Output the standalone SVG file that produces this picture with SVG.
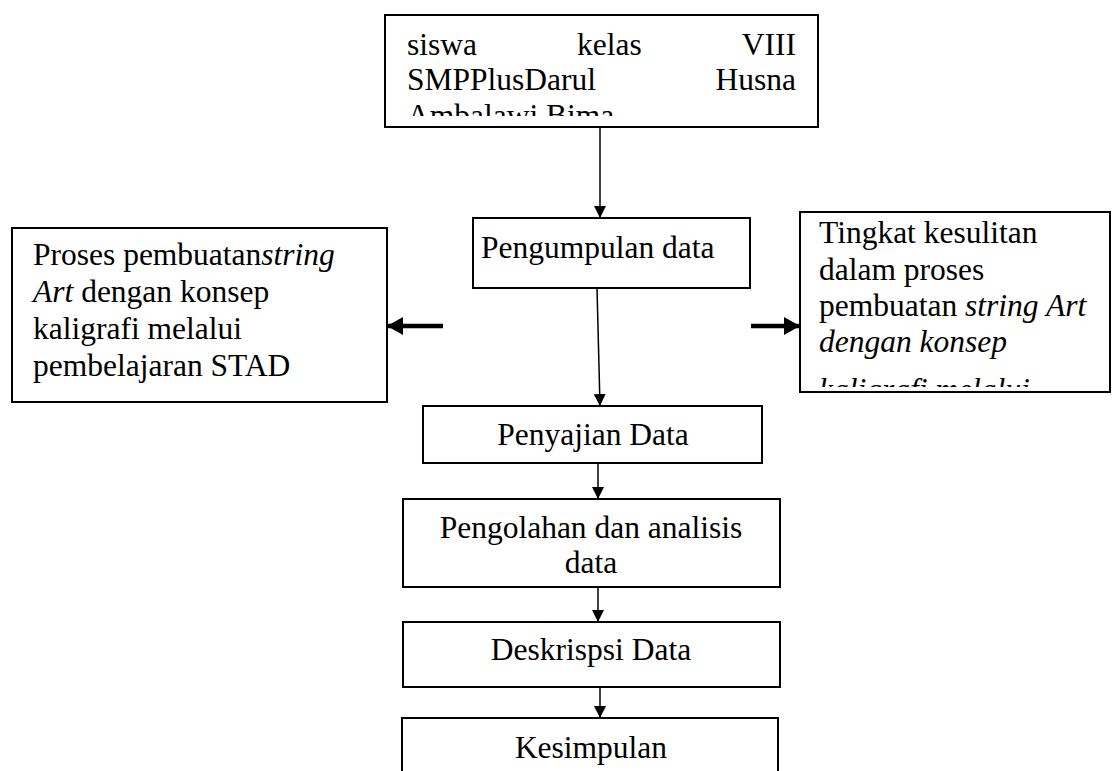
<svg xmlns="http://www.w3.org/2000/svg" width="1115" height="771" viewBox="0 0 1115 771">
<style>
.box{fill:#fff;stroke:#000;stroke-width:2}
.t{font-family:"Liberation Serif","Times New Roman",serif;font-size:31.5px;fill:#000}
.c{text-anchor:middle}
.i{font-style:italic}
.ln{stroke:#000;stroke-width:1.5;fill:none}
.thick{stroke:#000;stroke-width:4.5;fill:none}
</style>
<defs>
<marker id="ah" markerWidth="12" markerHeight="14" refX="14" refY="7" orient="auto" markerUnits="userSpaceOnUse" viewBox="0 0 14 14">
<path d="M0,0 L14,7 L0,14 Z" fill="#000"/>
</marker>
<marker id="ahb" markerWidth="16" markerHeight="18" refX="16" refY="9" orient="auto" markerUnits="userSpaceOnUse" viewBox="0 0 16 18">
<path d="M0,0 L16,9 L0,18 Z" fill="#000"/>
</marker>
<clipPath id="cTop"><rect x="386" y="16" width="431" height="100"/></clipPath>
<clipPath id="cLeft"><rect x="13" y="229" width="373" height="167"/></clipPath>
<clipPath id="cRight"><rect x="801" y="213" width="310" height="174"/></clipPath>
</defs>
<g id="connectors">
<line class="ln" x1="600" y1="127" x2="600" y2="218" marker-end="url(#ah)"/>
<line class="ln" x1="597" y1="288" x2="600" y2="406" marker-end="url(#ah)"/>
<line class="ln" x1="598" y1="463" x2="598" y2="499" marker-end="url(#ah)"/>
<line class="ln" x1="598" y1="587" x2="598" y2="622" marker-end="url(#ah)"/>
<line class="ln" x1="600" y1="687" x2="600" y2="718" marker-end="url(#ah)"/>
<line class="thick" x1="443" y1="326" x2="387" y2="326" marker-end="url(#ahb)"/>
<line class="thick" x1="751" y1="326" x2="800" y2="326" marker-end="url(#ahb)"/>
</g>
<g id="node-siswa">
<rect class="box" x="385" y="15" width="433" height="112"/>
<g clip-path="url(#cTop)">
<text class="t" x="407" y="55">siswa</text>
<text class="t" x="577" y="55">kelas</text>
<text class="t" x="796" y="55" text-anchor="end">VIII</text>
<text class="t" x="407" y="90">SMPPlusDarul</text>
<text class="t" x="796" y="90" text-anchor="end">Husna</text>
<text class="t" x="407" y="126">Ambalawi Bima</text>
</g>
</g>
<g id="node-pengumpulan">
<rect class="box" x="473" y="218" width="277" height="70"/>
<text class="t" x="481" y="258">Pengumpulan data</text>
</g>
<g id="node-proses">
<rect class="box" x="12" y="228" width="375" height="174"/>
<g clip-path="url(#cLeft)">
<text class="t" x="33" y="265">Proses pembuatan<tspan class="i">string</tspan></text>
<text class="t" x="33" y="302"><tspan class="i">Art</tspan> dengan konsep</text>
<text class="t" x="33" y="339">kaligrafi melalui</text>
<text class="t" x="33" y="376">pembelajaran STAD</text>
</g>
</g>
<g id="node-tingkat">
<rect class="box" x="800" y="212" width="310" height="180"/>
<g clip-path="url(#cRight)">
<text class="t" x="819" y="243">Tingkat kesulitan</text>
<text class="t" x="819" y="280">dalam proses</text>
<text class="t" x="819" y="316">pembuatan <tspan class="i">string Art</tspan></text>
<text class="t i" x="819" y="352">dengan konsep</text>
<text class="t i" x="819" y="400">kaligrafi melalui</text>
</g>
</g>
<g id="node-penyajian">
<rect class="box" x="423" y="406" width="339" height="57"/>
<text class="t c" x="593" y="445">Penyajian Data</text>
</g>
<g id="node-pengolahan">
<rect class="box" x="403" y="499" width="377" height="88"/>
<text class="t c" x="591" y="538">Pengolahan dan analisis</text>
<text class="t c" x="591" y="573">data</text>
</g>
<g id="node-deskripsi">
<rect class="box" x="403" y="622" width="377" height="65"/>
<text class="t c" x="591" y="660">Deskrispsi Data</text>
</g>
<g id="node-kesimpulan">
<rect class="box" x="402" y="718" width="376" height="60"/>
<text class="t c" x="591" y="758">Kesimpulan</text>
</g>
</svg>
